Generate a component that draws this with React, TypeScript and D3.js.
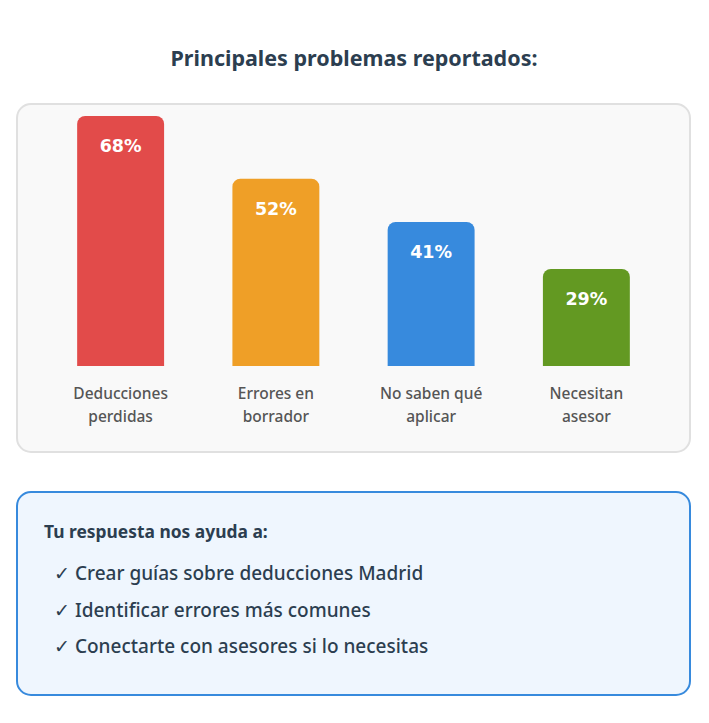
import * as d3 from "d3";

const categories = [
  ["Deducciones", "perdidas"],
  ["Errores en", "borrador"],
  ["No saben qué", "aplicar"],
  ["Necesitan", "asesor"],
];
const values = [68, 52, 41, 29];
const barColors = ["#E24B4A", "#EF9F27", "#378ADD", "#639922"];
const title = "Principales problemas reportados:";
const helpTitle = "Tu respuesta nos ayuda a:";
const helpItems = [
  "Crear guías sobre deducciones Madrid",
  "Identificar errores más comunes",
  "Conectarte con asesores si lo necesitas",
];

const W = 709;
const H = 723;
const font = "'Noto Sans', 'Open Sans', sans-serif";

function topRounded(x: number, y: number, w: number, h: number, r: number) {
  const p = d3.path();
  p.moveTo(x, y + h);
  p.lineTo(x, y + r);
  p.arcTo(x, y, x + r, y, r);
  p.lineTo(x + w - r, y);
  p.arcTo(x + w, y, x + w, y + r, r);
  p.lineTo(x + w, y + h);
  p.closePath();
  return p.toString();
}

export default function App() {
  const keys = categories.map((c) => c.join(" "));
  const x = d3
    .scaleBand<string>()
    .domain(keys)
    .range([43, 664])
    .paddingInner(0.44)
    .paddingOuter(0.22);
  const baseY = 366;
  const h = d3.scaleLinear().domain([4.25, 68]).range([0, 250]);

  return (
    <svg
      width={W}
      height={H}
      style={{ position: "absolute", left: 0, top: 0, display: "block" }}
    >
      <rect width={W} height={H} fill="#ffffff" />
      <text
        x={354}
        y={66}
        textAnchor="middle"
        fontFamily={font}
        fontWeight={700}
        fontSize={21.5}
        fill="#2c3e50"
      >
        {title}
      </text>

      <rect
        x={17}
        y={104}
        width={673}
        height={348}
        rx={14}
        fill="#f9f9f9"
        stroke="#e0e0e0"
        strokeWidth={2}
      />

      {values.map((v, i) => {
        const bx = x(keys[i])!;
        const bw = x.bandwidth();
        const bh = h(v);
        const cx = bx + bw / 2;
        return (
          <g key={keys[i]}>
            <path d={topRounded(bx, baseY - bh, bw, bh, 8)} fill={barColors[i]} />
            <text
              x={cx}
              y={baseY - bh + 36}
              textAnchor="middle"
              fontFamily="'DejaVu Sans', Verdana, sans-serif"
              fontWeight={700}
              fontSize={17.5}
              fill="#ffffff"
            >
              {v}%
            </text>
            {categories[i].map((line, j) => (
              <text
                key={j}
                x={cx}
                y={399 + j * 23}
                textAnchor="middle"
                fontFamily={font}
                fontWeight={500}
                fontSize={15.5}
                fill="#555555"
              >
                {line}
              </text>
            ))}
          </g>
        );
      })}

      <rect
        x={17}
        y={492}
        width={673}
        height={203}
        rx={14}
        fill="#eff6fe"
        stroke="#378ADD"
        strokeWidth={2}
      />
      <text
        x={44}
        y={538}
        fontFamily={font}
        fontWeight={700}
        fontSize={17.4}
        fill="#2c3e50"
      >
        {helpTitle}
      </text>
      {helpItems.map((t, i) => (
        <text
          key={t}
          x={54}
          y={580 + i * 36.5}
          fontFamily={font}
          fontWeight={500}
          fontSize={19}
          fill="#2c3e50"
        >
          {"✓ " + t}
        </text>
      ))}
    </svg>
  );
}
